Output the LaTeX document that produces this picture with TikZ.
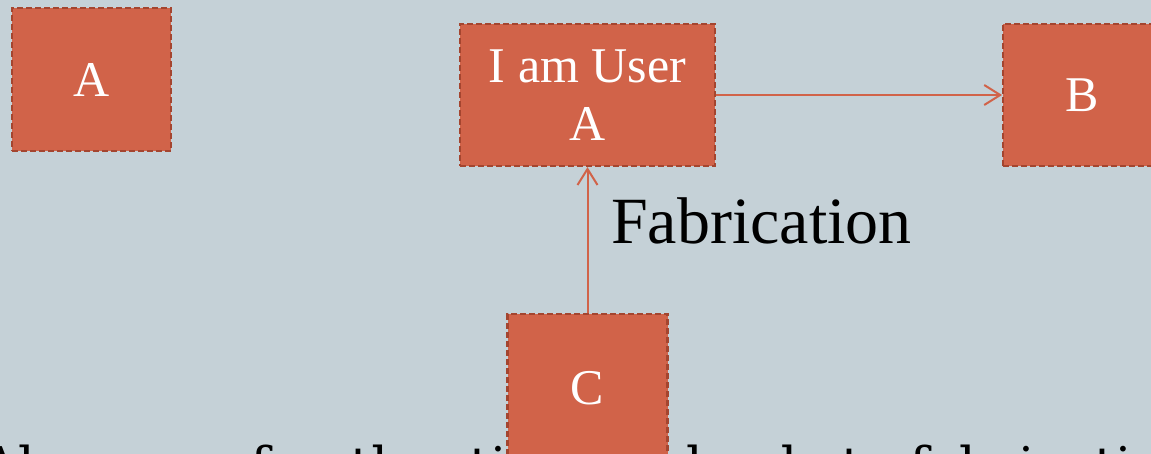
\documentclass[tikz,border=0pt]{standalone}
\usepackage{fontspec}
\setmainfont{Liberation Serif}
\newfontfamily\bodyfont{DejaVu Serif}
\usetikzlibrary{arrows.meta,positioning}
\definecolor{SlideBG}{HTML}{C5D1D7}
\definecolor{BoxFill}{HTML}{D16349}
\definecolor{BoxEdge}{HTML}{A4452F}

\tikzset{
  userbox/.style={fill=BoxFill,draw=BoxEdge,line width=2.2pt,
        dash pattern=on 6pt off 3pt,text=white,align=center,inner sep=0pt,
        font=\fontsize{50}{58}\selectfont},
  flow/.style={draw=BoxFill,line width=2pt,
        -{Straight Barb[length=16pt,width=20pt]}}
}

\begin{document}
\begin{tikzpicture}[x=1pt,y=1pt]
  \useasboundingbox (0,0) rectangle (1151,-454);
  \clip (0,0) rectangle (1151,-454);
  \fill[SlideBG] (0,0) rectangle (1151,-454);

  % caption line, partly behind box C
  \node[anchor=base west,inner sep=0pt,font=\bodyfont\fontsize{52}{60}\selectfont]
    (claim) at (-19,-484) {Absence of authentication leads to fabrication};

  % users
  \node[userbox,minimum width=159pt,minimum height=143pt] (a) at (91.5,-79.5) {A};
  \node[userbox,minimum width=255pt,minimum height=142pt] (usera) at (587.5,-95) {I am User\\A};
  \node[userbox,minimum width=158pt,minimum height=142pt,right=286pt of usera] (b) {B};
  \node[userbox,minimum width=160pt,minimum height=148pt,below=146pt of usera] (c) {C};

  % messages
  \draw[flow] (usera) -- (b);
  \draw[flow] (c) -- (usera);
  \node[anchor=base west,inner sep=0pt,font=\fontsize{66}{70}\selectfont]
    (fab) at (611,-244) {Fabrication};
\end{tikzpicture}
\end{document}
